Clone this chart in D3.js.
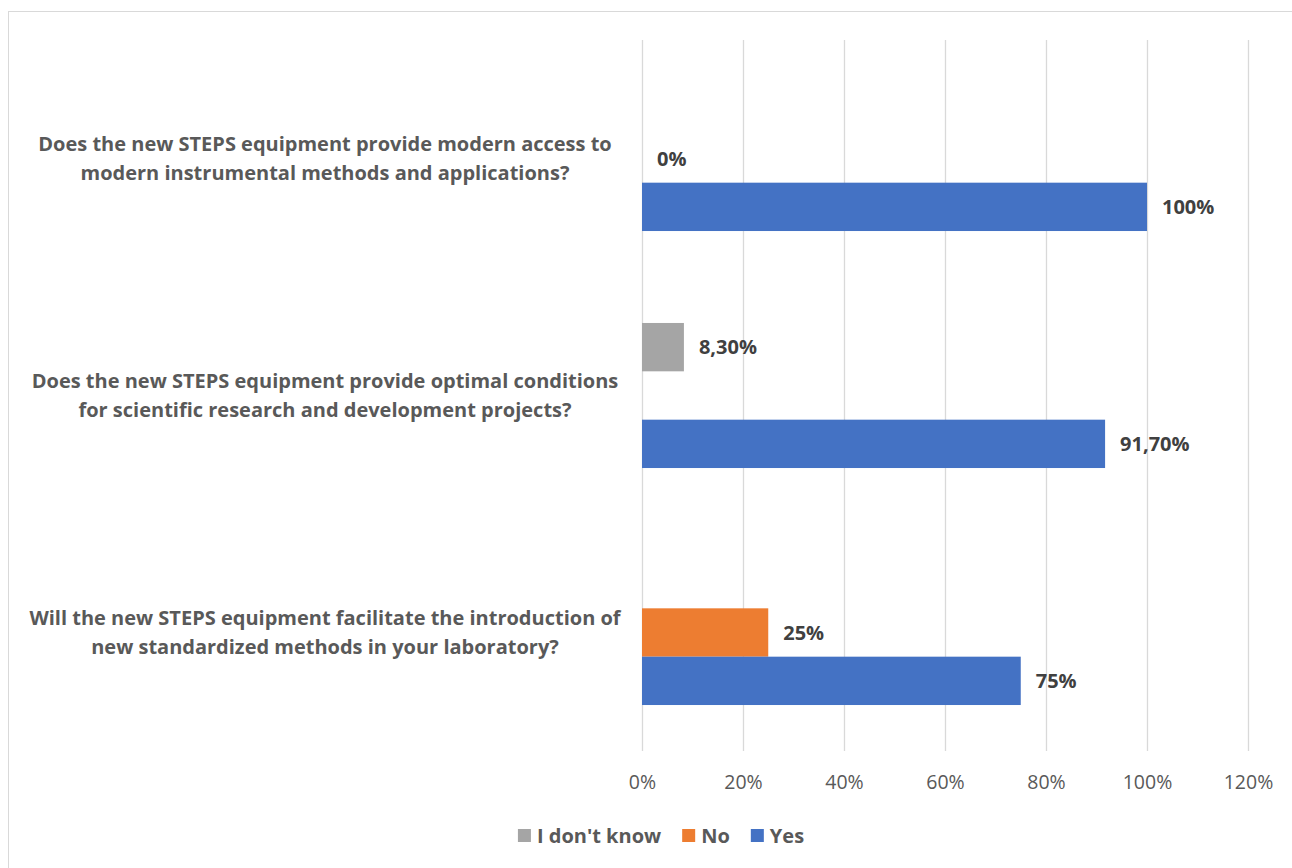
<!DOCTYPE html>
<html>
<head>
<meta charset="utf-8">
<script src="https://cdn.jsdelivr.net/npm/d3@7"></script>
<style>
  html, body { margin: 0; padding: 0; background: #fff; }
  svg { display: block; font-family: "Open Sans", Lato, sans-serif; }
</style>
</head>
<body>
<svg id="chart" width="1292" height="868"></svg>
<script>
// Survey questions (top to bottom) and answer shares in percent
const questions = [
  ["Does the new STEPS equipment provide modern access to", "modern instrumental methods and applications?"],
  ["Does the new STEPS equipment provide optimal conditions", "for scientific research and development projects?"],
  ["Will the new STEPS equipment facilitate the introduction of", "new standardized methods in your laboratory?"]
];
const seriesNames = ["I don't know", "No", "Yes"];
const seriesColors = ["#a5a5a5", "#ed7d31", "#4472c4"];
const dontKnow = [null, 8.3, null];
const no = [0, null, 25];
const yes = [100, 91.7, 75];
const xTicks = [0, 20, 40, 60, 80, 100, 120];

const seriesValues = [dontKnow, no, yes];

const svg = d3.select("#chart");
const W = 1292, H = 868;
const plot = { left: 642, right: 1248, top: 40, bottom: 751 };

// chart frame
svg.append("rect")
  .attr("x", 8.5).attr("y", 11.5)
  .attr("width", W + 10).attr("height", H + 10)
  .attr("fill", "#fff").attr("stroke", "#d9d9d9").attr("stroke-width", 1);

const x = d3.scaleLinear().domain([0, 120]).range([plot.left, plot.right]);

const qIdx = questions.map((q, i) => i);
const gap = 0.388;
const y0 = d3.scaleBand().domain(qIdx).range([plot.top, plot.bottom])
  .paddingInner(gap).paddingOuter(gap / 2);
const y1 = d3.scaleBand().domain(seriesNames).range([0, y0.bandwidth()]);

// vertical gridlines and percent ticks
const xAxis = d3.axisBottom(x).tickValues(xTicks).tickSize(-(plot.bottom - plot.top))
  .tickFormat(d => d + "%").tickPadding(24);
const gx = svg.append("g").attr("transform", `translate(0,${plot.bottom})`).call(xAxis);
gx.select(".domain").remove();
gx.selectAll(".tick line").attr("stroke", "#d9d9d9").attr("stroke-width", 1.3);
gx.selectAll(".tick text").attr("fill", "#595959").attr("font-size", 19.5)
  .attr("font-family", "'Open Sans', sans-serif");

// bars with value labels
const fmt = v => Number.isInteger(v) ? v + "%" : v.toFixed(2).replace(".", ",") + "%";
const barData = [];
seriesNames.forEach((s, si) => {
  seriesValues[si].forEach((v, qi) => {
    if (v !== null) barData.push({ s, si, qi, v });
  });
});

const bars = svg.append("g");
bars.selectAll("rect").data(barData).join("rect")
  .attr("x", x(0))
  .attr("y", d => y0(d.qi) + y1(d.s))
  .attr("width", d => x(d.v) - x(0))
  .attr("height", y1.bandwidth())
  .attr("fill", d => seriesColors[d.si]);

bars.selectAll("text").data(barData).join("text")
  .attr("x", d => x(d.v) + 15)
  .attr("y", d => y0(d.qi) + y1(d.s) + y1.bandwidth() / 2)
  .attr("dy", "0.36em")
  .attr("font-size", 20).attr("font-weight", "bold").attr("fill", "#404040")
  .text(d => fmt(d.v));

// question labels, two centred lines each
const cat = svg.append("g");
questions.forEach((lines, qi) => {
  const cy = y0(qi) + y0.bandwidth() / 2;
  const t = cat.append("text")
    .attr("text-anchor", "middle")
    .attr("font-size", 20).attr("font-weight", "bold").attr("fill", "#595959");
  lines.forEach((ln, li) => {
    t.append("tspan").attr("x", 325).attr("y", cy + (li - 0.5) * 28.5).attr("dy", "0.36em").text(ln);
  });
});

// legend
const leg = svg.append("g");
const items = seriesNames.map((s, i) => {
  const g = leg.append("g");
  g.append("rect").attr("width", 13).attr("height", 13).attr("y", -6.5).attr("fill", seriesColors[i]);
  const tx = g.append("text").attr("x", 19).attr("dy", "0.36em")
    .attr("font-size", 20).attr("font-weight", "bold").attr("fill", "#595959").text(s);
  return { g, w: 19 + tx.node().getComputedTextLength() };
});
const spacing = 21;
const total = d3.sum(items, d => d.w) + spacing * (items.length - 1);
let lx = 661 - total / 2;
items.forEach(it => {
  it.g.attr("transform", `translate(${lx},835.5)`);
  lx += it.w + spacing;
});
</script>
</body>
</html>
